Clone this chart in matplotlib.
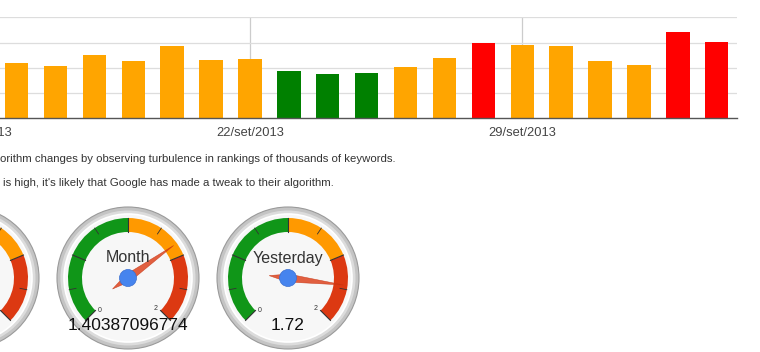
import numpy as np
import matplotlib.pyplot as plt
from matplotlib.patches import Wedge, Circle, Polygon

plt.rcParams['font.family'] = ['Liberation Sans', 'DejaVu Sans']

# daily turbulence values (16/set .. 04/out 2013)
days = ['16/set', '17/set', '18/set', '19/set', '20/set', '21/set', '22/set',
        '23/set', '24/set', '25/set', '26/set', '27/set', '28/set', '29/set',
        '30/set', '01/out', '02/out', '03/out', '04/out']
vals = [1.09, 1.03, 1.25, 1.14, 1.44, 1.15, 1.17, 0.94, 0.88, 0.90,
        1.02, 1.20, 1.50, 1.45, 1.43, 1.14, 1.06, 1.72, 1.51]
bar_colors = ['#FFA500'] * 7 + ['#008000'] * 3 + ['#FFA500'] * 2 + ['#FF0000'] + \
             ['#FFA500'] * 4 + ['#FF0000'] * 2
tick_pos = [-1, 6, 13]
tick_labels = ['15/set/2013', '22/set/2013', '29/set/2013']

line1 = "orithm changes by observing turbulence in rankings of thousands of keywords."
line2 = "is high, it's likely that Google has made a tweak to their algorithm."

gauge_names = ['', 'Month', 'Yesterday']
gauge_values = [1.0, 1.40387096774, 1.72]
gauge_texts = ['', '1.40387096774', '1.72']
gauge_x = [-32, 128, 288]
gauge_min, gauge_max = 0, 2
bands = [(0, 1.0, '#109618'), (1.0, 1.5, '#FF9900'), (1.5, 2.0, '#DC3912')]

W, H = 760, 352
fig = plt.figure(figsize=(7.6, 3.52), dpi=100)

# gauges + text layer, pixel coords
ax_g = fig.add_axes([0, 0, 1, 1], zorder=0)
ax_g.set_xlim(0, W)
ax_g.set_ylim(0, H)
ax_g.axis('off')


def ang(v):
    return 225 - 270 * (v - gauge_min) / (gauge_max - gauge_min)


cy = H - 278
for cx, name, v, txt in zip(gauge_x, gauge_names, gauge_values, gauge_texts):
    ax_g.add_patch(Circle((cx, cy), 71, fc='#c4c4c4', ec='#9a9a9a', lw=0.8))
    ax_g.add_patch(Circle((cx, cy), 67.5, fc='#dcdcdc', ec='none'))
    ax_g.add_patch(Circle((cx, cy), 64, fc='#f7f7f7', ec='#ffffff', lw=1.2))
    for a, b, c in bands:
        ax_g.add_patch(Wedge((cx, cy), 60, ang(b), ang(a), width=14, fc=c, ec='none'))
    for t in np.arange(gauge_min, gauge_max + 0.01, 0.25):
        th = np.radians(ang(t))
        r0 = 46 if t % 0.5 == 0 else 53
        ax_g.plot([cx + r0 * np.cos(th), cx + 60 * np.cos(th)],
                  [cy + r0 * np.sin(th), cy + 60 * np.sin(th)],
                  color='#333333', lw=0.8 if t % 0.5 == 0 else 0.6)
    if name:
        ax_g.text(cx - 28, cy - 32, '0', fontsize=5, color='#333333', ha='center', va='center')
        ax_g.text(cx + 28, cy - 30, '2', fontsize=5, color='#333333', ha='center', va='center')
        ax_g.text(cx, cy + 20, name, fontsize=11.5, color='#333333', ha='center', va='center')
    if txt:
        ax_g.text(cx, cy - 47, txt, fontsize=12.5, color='#111111', ha='center', va='center')
    th = np.radians(ang(v))
    d = np.array([np.cos(th), np.sin(th)])
    n = np.array([-np.sin(th), np.cos(th)])
    c0 = np.array([cx, cy])
    pts = [c0 + 56 * d, c0 + 4 * n, c0 - 19 * d, c0 - 4 * n]
    ax_g.add_patch(Polygon(pts, closed=True, fc='#DC3912', ec='#C63310', lw=0.4, alpha=0.8))
    ax_g.add_patch(Circle((cx, cy), 8.5, fc='#4684EE', ec='#3a6fd0', lw=0.5))

ax_g.text(0, H - 159, line1, fontsize=8.2, color='#333333', va='center')
ax_g.text(3, H - 183, line2, fontsize=8.2, color='#333333', va='center')

# bar chart
x0, x1 = -1.45, 18.52
px_left = 16.5 + 38.9 * x0
ax = fig.add_axes([px_left / W, (H - 118) / H, (737 - px_left) / W, (118 - 17.3) / H], zorder=1)
ax.patch.set_alpha(0)
ax.bar(range(len(vals)), vals, width=0.6, color=bar_colors)
ax.set_xlim(x0, x1)
ax.set_ylim(0, 2.003)
ax.set_axisbelow(True)
ax.set_yticks([0.5, 1.0, 1.5, 2.0])
ax.set_yticklabels([])
ax.set_xticks(tick_pos)
ax.set_xticklabels(tick_labels, fontsize=9.3, color='#444444')
ax.tick_params(length=0, pad=6.5)
ax.grid(axis='y', color='#dddddd', lw=0.9)
ax.grid(axis='x', color='#cccccc', lw=0.9)
for s in ['top', 'left', 'right']:
    ax.spines[s].set_visible(False)
ax.spines['bottom'].set_color('#555555')
ax.spines['bottom'].set_linewidth(1)

fig.savefig('out.png', dpi=100)
